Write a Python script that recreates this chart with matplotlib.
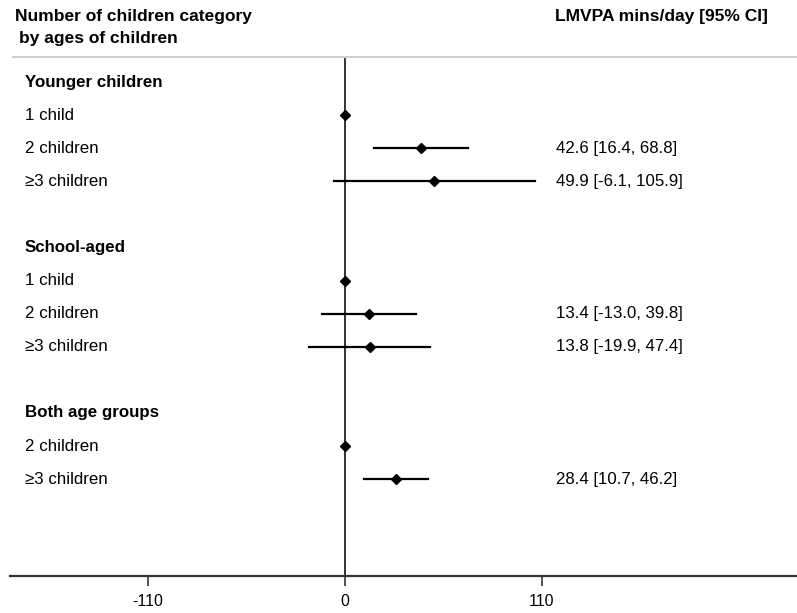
import matplotlib

matplotlib.use("Agg")
import matplotlib.pyplot as plt
from matplotlib.lines import Line2D

plt.rcParams["font.family"] = ["Liberation Sans", "DejaVu Sans"]

# groups and rows (None CI = reference category)
groups = ["Younger children", "School-aged", "Both age groups"]
row_labels = [
    ["1 child", "2 children", "\u22653 children"],
    ["1 child", "2 children", "\u22653 children"],
    ["2 children", "\u22653 children"],
]
estimates = [[0.0, 42.6, 49.9], [0.0, 13.4, 13.8], [0.0, 28.4]]
lower = [[None, 16.4, -6.1], [None, -13.0, -19.9], [None, 10.7]]
upper = [[None, 68.8, 105.9], [None, 39.8, 47.4], [None, 46.2]]
xticks = [-110, 0, 110]

W, H = 797, 613
fig = plt.figure(figsize=(W / 100, H / 100), dpi=100)

px_per_unit = (542 - 345) / 110.0
ax_left_px, ax_right_px = 10, 797
axis_y_px, top_y_px = 576, 57
row0_px, row_step_px = 82, 33.1

ax = fig.add_axes([ax_left_px / W, 1 - axis_y_px / H,
                   (ax_right_px - ax_left_px) / W, (axis_y_px - top_y_px) / H])
ax.set_xlim((ax_left_px - 345) / px_per_unit, (ax_right_px - 345) / px_per_unit)
ax.set_ylim((axis_y_px - row0_px) / row_step_px, (top_y_px - row0_px) / row_step_px)
ax.patch.set_alpha(0)
for side in ("top", "right", "left"):
    ax.spines[side].set_visible(False)
ax.spines["bottom"].set_linewidth(1.6)
ax.spines["bottom"].set_color("#333333")
ax.set_yticks([])
ax.set_xticks(xticks)
ax.set_xticklabels([str(t) for t in xticks], fontsize=11.5)
ax.tick_params(axis="x", direction="out", length=7, width=1.2, color="#333333", pad=6)

ax.axvline(0, color="#333333", lw=1.4, zorder=1)

label_x = 25 / W
est_x = 556 / W
idx = 0
for g, name in enumerate(groups):
    y_px = row0_px + row_step_px * idx
    fig.text(label_x, 1 - y_px / H, name, fontsize=12.2, fontweight="bold", va="center", ha="left")
    idx += 1
    for k, lab in enumerate(row_labels[g]):
        y_px = row0_px + row_step_px * idx
        fig.text(label_x, 1 - y_px / H, lab, fontsize=12.2, va="center", ha="left")
        if lower[g][k] is not None:
            ax.plot([lower[g][k], upper[g][k]], [idx, idx], color="black", lw=1.6, zorder=2)
            fig.text(est_x, 1 - y_px / H,
                     f"{estimates[g][k]:.1f} [{lower[g][k]:.1f}, {upper[g][k]:.1f}]",
                     fontsize=12.1, va="center", ha="left")
        ax.plot(estimates[g][k], idx, marker="D", ms=5.5, color="black", zorder=3)
        idx += 1
    idx += 1

fig.text(15 / W, 1 - 17 / H, "Number of children category", fontsize=12.5, fontweight="bold",
         va="center", ha="left")
fig.text(19 / W, 1 - 38 / H, "by ages of children", fontsize=12.5, fontweight="bold",
         va="center", ha="left")
fig.text(555 / W, 1 - 17 / H, "LMVPA mins/day [95% CI]", fontsize=12.5, fontweight="bold",
         va="center", ha="left")
fig.add_artist(Line2D([13 / W, 1], [1 - top_y_px / H, 1 - top_y_px / H],
                      color="#d0d0d0", lw=1.5, transform=fig.transFigure))

fig.savefig("out.png", dpi=100)
